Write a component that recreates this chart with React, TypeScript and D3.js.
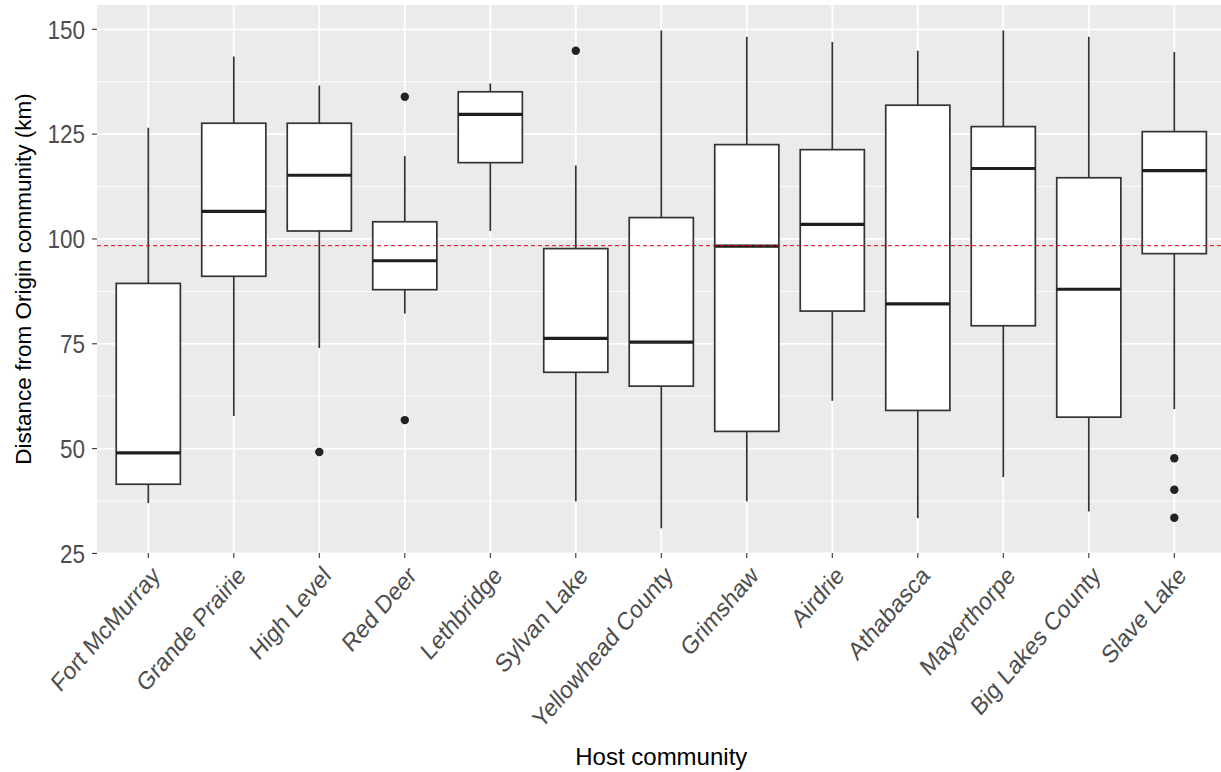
import React from "react";
import * as d3 from "d3";

// Host communities, in plotting order
const hosts = [
  "Fort McMurray", "Grande Prairie", "High Level", "Red Deer", "Lethbridge",
  "Sylvan Lake", "Yellowhead County", "Grimshaw", "Airdrie", "Athabasca",
  "Mayerthorpe", "Big Lakes County", "Slave Lake",
];

// Five-number summaries (km)
const whiskerLow = [37.0, 57.8, 74.0, 82.2, 101.9, 37.4, 31.0, 37.4, 61.4, 33.4, 43.2, 35.0, 59.4];
const q1 = [41.5, 91.1, 101.9, 87.9, 118.2, 68.2, 64.9, 54.1, 82.8, 59.1, 79.3, 57.5, 96.5];
const median = [49.0, 106.6, 115.2, 94.8, 129.7, 76.3, 75.4, 98.3, 103.5, 84.5, 116.8, 88.0, 116.3];
const q3 = [89.4, 127.6, 127.6, 104.1, 135.1, 97.7, 105.1, 122.5, 121.3, 131.9, 126.8, 114.6, 125.6];
const whiskerHigh = [126.5, 143.5, 136.6, 119.8, 137.1, 117.5, 149.7, 148.2, 147.0, 144.9, 149.7, 148.2, 144.6];
const outliers: number[][] = [[], [], [49.2], [133.9, 56.8], [], [144.9], [], [], [], [], [], [], [47.7, 40.2, 33.5]];

// Overall mean distance, shown as a reference line
const overallMean = 98.4;

const yTicks = [25, 50, 75, 100, 125, 150];
const yMinor = [37.5, 62.5, 87.5, 112.5, 137.5];

const W = 1221;
const H = 772;
const panelTop = 5;
const panelBottom = 553;
const step = 85.5;
const firstX = 148.3;
const panelLeft = firstX - 0.6 * step;
const panelRight = firstX + (hosts.length - 1) * step + 0.6 * step;
const stretch = 1.15; // tall, narrow lettering of the axis labels

const FONT = "'Liberation Sans', Arial, sans-serif";

export default function App() {
  const x = d3
    .scalePoint<string>()
    .domain(hosts)
    .range([firstX, firstX + (hosts.length - 1) * step]);
  const y = d3.scaleLinear().domain([25.1, 155.8]).range([panelBottom, panelTop]);
  const boxW = step * 0.75;
  const ink = "#333333";

  return (
    <svg
      width={W}
      height={H}
      style={{ position: "absolute", left: 0, top: 0, background: "#ffffff" }}
      fontFamily={FONT}
    >
      <defs>
        <clipPath id="panel">
          <rect x={panelLeft} y={panelTop} width={panelRight - panelLeft} height={panelBottom - panelTop} />
        </clipPath>
      </defs>
      <rect x={panelLeft} y={panelTop} width={panelRight - panelLeft} height={panelBottom - panelTop} fill="#EBEBEB" />
      <g clipPath="url(#panel)">
        {yMinor.map((v) => (
          <line key={"mn" + v} x1={panelLeft} x2={panelRight} y1={y(v)} y2={y(v)} stroke="#ffffff" strokeWidth={0.9} />
        ))}
        {yTicks.map((v) => (
          <line key={"mj" + v} x1={panelLeft} x2={panelRight} y1={y(v)} y2={y(v)} stroke="#ffffff" strokeWidth={1.8} />
        ))}
        {hosts.map((h) => (
          <line key={"vx" + h} x1={x(h)} x2={x(h)} y1={panelTop} y2={panelBottom} stroke="#ffffff" strokeWidth={1.8} />
        ))}

        {hosts.map((h, i) => {
          const cx = x(h) as number;
          return (
            <g key={"box" + h}>
              <line x1={cx} x2={cx} y1={y(q3[i])} y2={y(whiskerHigh[i])} stroke={ink} strokeWidth={1.7} />
              <line x1={cx} x2={cx} y1={y(q1[i])} y2={y(whiskerLow[i])} stroke={ink} strokeWidth={1.7} />
              <rect
                x={cx - boxW / 2}
                y={y(q3[i])}
                width={boxW}
                height={y(q1[i]) - y(q3[i])}
                fill="#ffffff"
                stroke={ink}
                strokeWidth={1.7}
              />
              <line x1={cx - boxW / 2} x2={cx + boxW / 2} y1={y(median[i])} y2={y(median[i])} stroke="#1f1f1f" strokeWidth={3.2} />
              {outliers[i].map((v, k) => (
                <circle key={k} cx={cx} cy={y(v)} r={4.2} fill="#222222" />
              ))}
            </g>
          );
        })}

        <line
          x1={panelLeft}
          x2={panelRight}
          y1={y(overallMean)}
          y2={y(overallMean)}
          stroke="#E8000B"
          strokeWidth={1}
          strokeDasharray="4,3"
        />
      </g>

      {/* y axis */}
      {yTicks.map((v) => (
        <g key={"yt" + v}>
          <line x1={panelLeft - 5} x2={panelLeft} y1={y(v)} y2={y(v)} stroke={ink} strokeWidth={1.1} />
          <text
            transform={`translate(${panelLeft - 12},${y(v)}) scale(1,${stretch})`}
            dy="0.36em"
            textAnchor="end"
            fontSize={22.5}
            fill="#4D4D4D"
          >
            {v}
          </text>
        </g>
      ))}

      {/* x axis */}
      {hosts.map((h) => {
        const cx = x(h) as number;
        return (
          <g key={"xt" + h}>
            <line x1={cx} x2={cx} y1={panelBottom} y2={panelBottom + 5} stroke={ink} strokeWidth={1.1} />
            <text
              transform={`translate(${cx + 13},${panelBottom + 24}) scale(1,${stretch}) rotate(-45)`}
              textAnchor="end"
              fontSize={22}
              fill="#4D4D4D"
            >
              {h}
            </text>
          </g>
        );
      })}

      <text x={(panelLeft + panelRight) / 2} y={765} textAnchor="middle" fontSize={24} fill="#000000">
        Host community
      </text>
      <text
        transform={`translate(31,${(panelTop + panelBottom) / 2}) rotate(-90)`}
        textAnchor="middle"
        fontSize={22.5}
        fill="#000000"
      >
        Distance from Origin community (km)
      </text>
    </svg>
  );
}
